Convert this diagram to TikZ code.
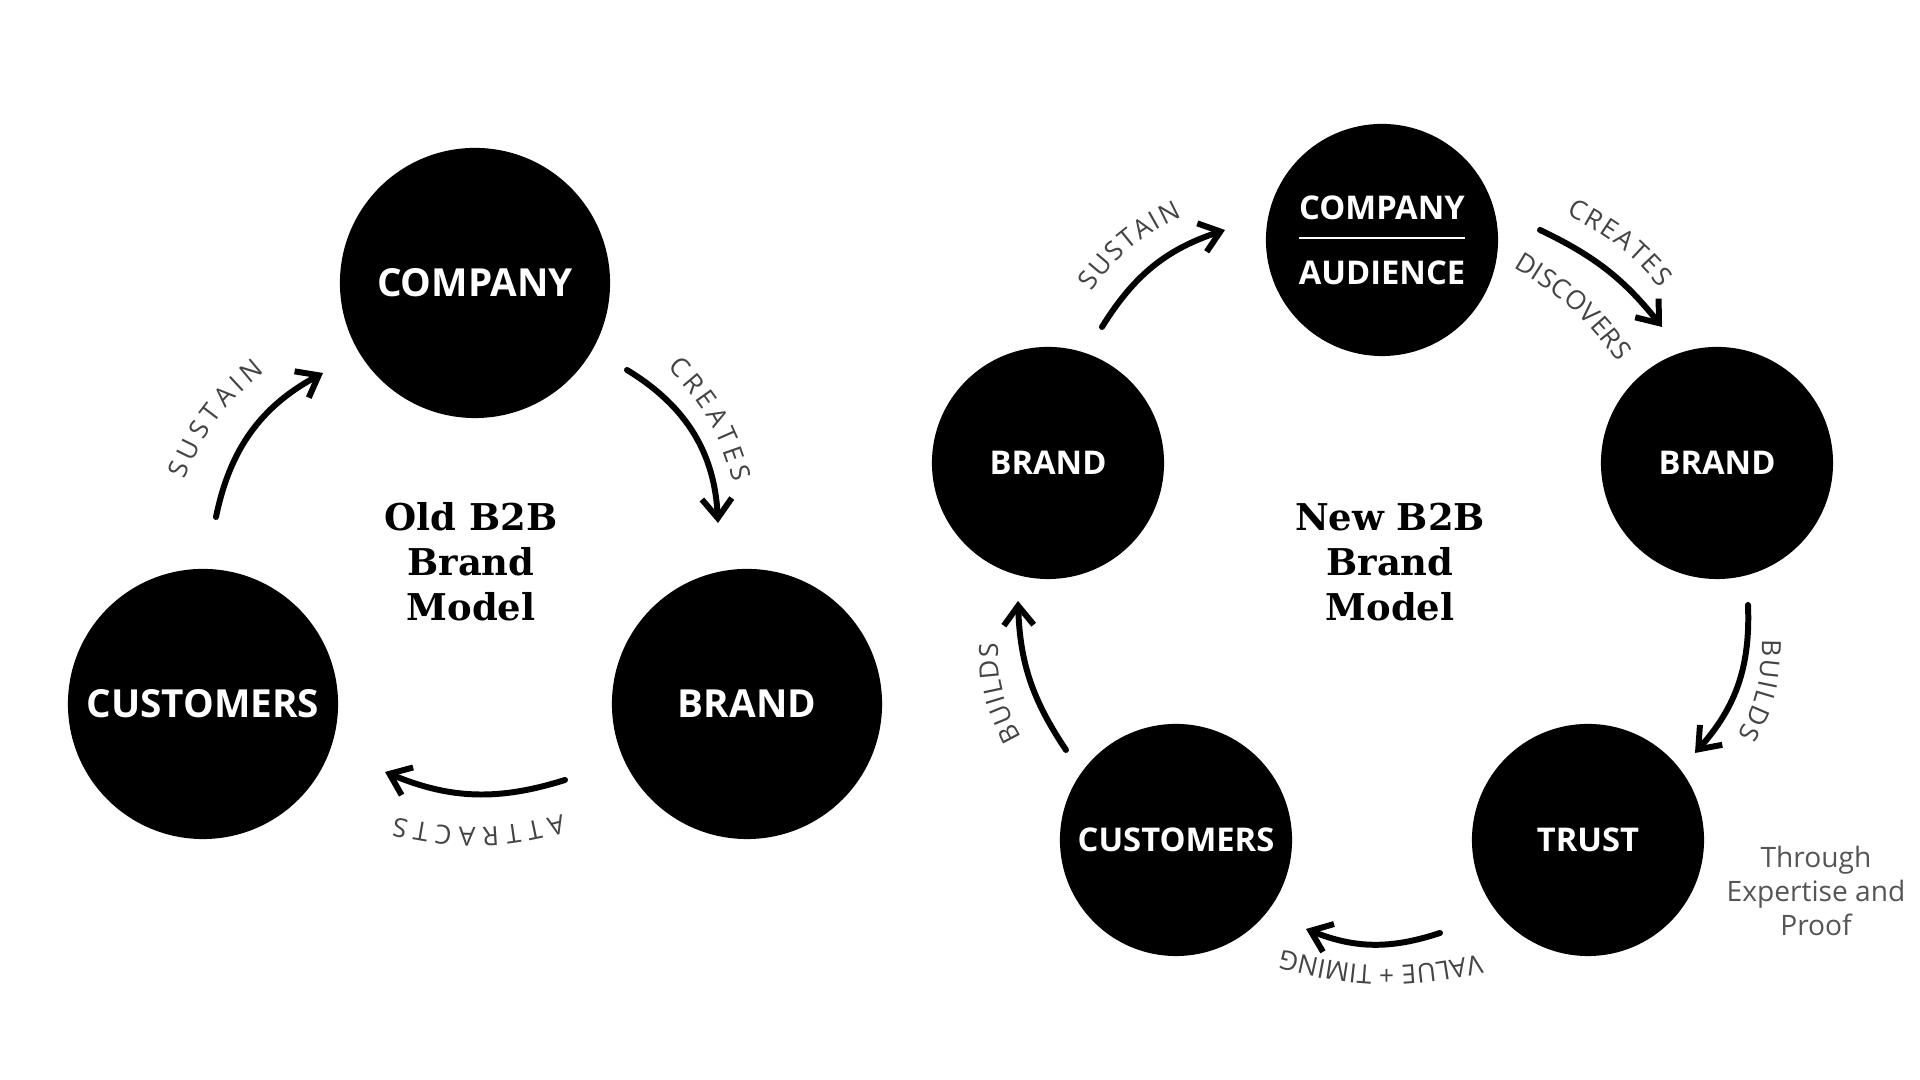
\documentclass[tikz,border=0pt]{standalone}
\usepackage{fontspec}
\usepackage{xcolor}
\usetikzlibrary{arrows.meta,positioning,calc,decorations.text}
\newfontfamily\dotfont{Open Sans}
\newfontfamily\titlefont{DejaVu Serif}
\definecolor{LabelGray}{HTML}{444444}
\definecolor{NoteGray}{HTML}{555555}
\newcommand\arcfont{\dotfont\fontsize{7.5}{9}\selectfont}

\begin{document}
\begin{tikzpicture}[x=0.01cm,y=0.01cm,
    bigdot/.style={circle,fill=black,minimum size=2.7cm,inner sep=0pt,text=white,
                   font=\dotfont\bfseries\fontsize{11}{13}\selectfont},
    smalldot/.style={bigdot,minimum size=2.32cm,align=center,
                   font=\dotfont\bfseries\fontsize{9.3}{18.4}\selectfont},
    title/.style={align=center,font=\titlefont\bfseries\fontsize{10.5}{12.8}\selectfont},
    arr/.style={line width=1.7pt,line cap=round,-{Straight Barb[length=5.5pt,width=8.5pt]}},
    arclbl/.style={decorate,decoration={text along path,text={|\arcfont|#1},
                   text color=LabelGray,text align={fit to path}}}]
    \fill[white] (0,0) rectangle (1920,1080);
    \useasboundingbox (0,0) rectangle (1920,1080);

    % old model
    \node[bigdot] (oldComp) at (475,797) {COMPANY};
    \node[bigdot] (oldCust) at (203,376) {CUSTOMERS};
    \node[bigdot] (oldBrand) at (747,376) {BRAND};
    \node[title] (oldTitle) at (471,518) {Old B2B\\Brand\\Model};

    \coordinate (oldSusA) at (216,563);  \coordinate (oldSusB) at (323,707);
    \coordinate (oldCreA) at (627,710);  \coordinate (oldCreB) at (718,557);
    \coordinate (oldAttA) at (565,300);  \coordinate (oldAttB) at (385,308);
    \draw[arr] (oldSusA) to[bend left=25] (oldSusB);
    \draw[arr] (oldCreA) to[bend left=28] (oldCreB);
    \draw[arr] (oldAttA) to[bend left=20] (oldAttB);

    \coordinate (oldSusT1) at (185,600); \coordinate (oldSusT2) at (265,708);
    \coordinate (oldCreT1) at (667,712); \coordinate (oldCreT2) at (733,598);
    \coordinate (oldAttT1) at (562,266); \coordinate (oldAttT2) at (395,263);
    \path[arclbl=SUSTAIN] (oldSusT1) to[bend left=15] (oldSusT2);
    \path[arclbl=CREATES] (oldCreT1) to[bend left=15] (oldCreT2);
    \path[arclbl=ATTRACTS] (oldAttT1) to[bend left=14] (oldAttT2);

    % new model
    \node[smalldot] (newComp) at (1382,840) {COMPANY\\AUDIENCE};
    \draw[white,line width=0.6pt] ($(newComp.center)+(-83,2)$) -- ($(newComp.center)+(83,2)$);
    \node[smalldot] (newBrandL) at (1048,617) {BRAND};
    \node[smalldot] (newBrandR) at (1717,617) {BRAND};
    \node[smalldot] (newCust) at (1176,240) {CUSTOMERS};
    \node[smalldot] (newTrust) at (1588,240) {TRUST};
    \node[title] (newTitle) at (1390,518) {New B2B\\Brand\\Model};
    \node[align=center,text=NoteGray,font=\dotfont\fontsize{8}{9.7}\selectfont] (newNote)
      at (1816,189) {Through\\Expertise and\\Proof};

    \coordinate (newSusA) at (1102,753); \coordinate (newSusB) at (1225,850);
    \coordinate (newCreA) at (1540,850); \coordinate (newCreB) at (1662,753);
    \coordinate (newBldA) at (1748,475); \coordinate (newBldB) at (1695,327);
    \coordinate (newValA) at (1440,147); \coordinate (newValB) at (1306,151);
    \coordinate (newBlcA) at (1066,330); \coordinate (newBlcB) at (1018,479);
    \draw[arr] (newSusA) to[bend left=20] (newSusB);
    \draw[arr] (newCreA) to[bend left=13] (newCreB);
    \draw[arr] (newBldA) to[bend left=22] (newBldB);
    \draw[arr] (newValA) to[bend left=20] (newValB);
    \draw[arr] (newBlcA) to[bend left=16] (newBlcB);

    \coordinate (newSusT1) at (1092,788); \coordinate (newSusT2) at (1182,863);
    \coordinate (newCreT1) at (1566,865); \coordinate (newCreT2) at (1660,792);
    \coordinate (newDisT1) at (1513,812); \coordinate (newDisT2) at (1618,718);
    \coordinate (newBldT1) at (1762,440); \coordinate (newBldT2) at (1738,345);
    \coordinate (newValT1) at (1480,126); \coordinate (newValT2) at (1283,130);
    \coordinate (newBlcT1) at (1022,343); \coordinate (newBlcT2) at (998,437);
    \path[arclbl=SUSTAIN] (newSusT1) to[bend left=15] (newSusT2);
    \path[arclbl=CREATES] (newCreT1) to[bend left=12] (newCreT2);
    \path[arclbl=DISCOVERS] (newDisT1) to[bend left=12] (newDisT2);
    \path[arclbl=BUILDS] (newBldT1) to[bend left=15] (newBldT2);
    \path[arclbl={VALUE + TIMING}] (newValT1) to[bend left=14] (newValT2);
    \path[arclbl=BUILDS] (newBlcT1) to[bend left=15] (newBlcT2);
\end{tikzpicture}
\end{document}
